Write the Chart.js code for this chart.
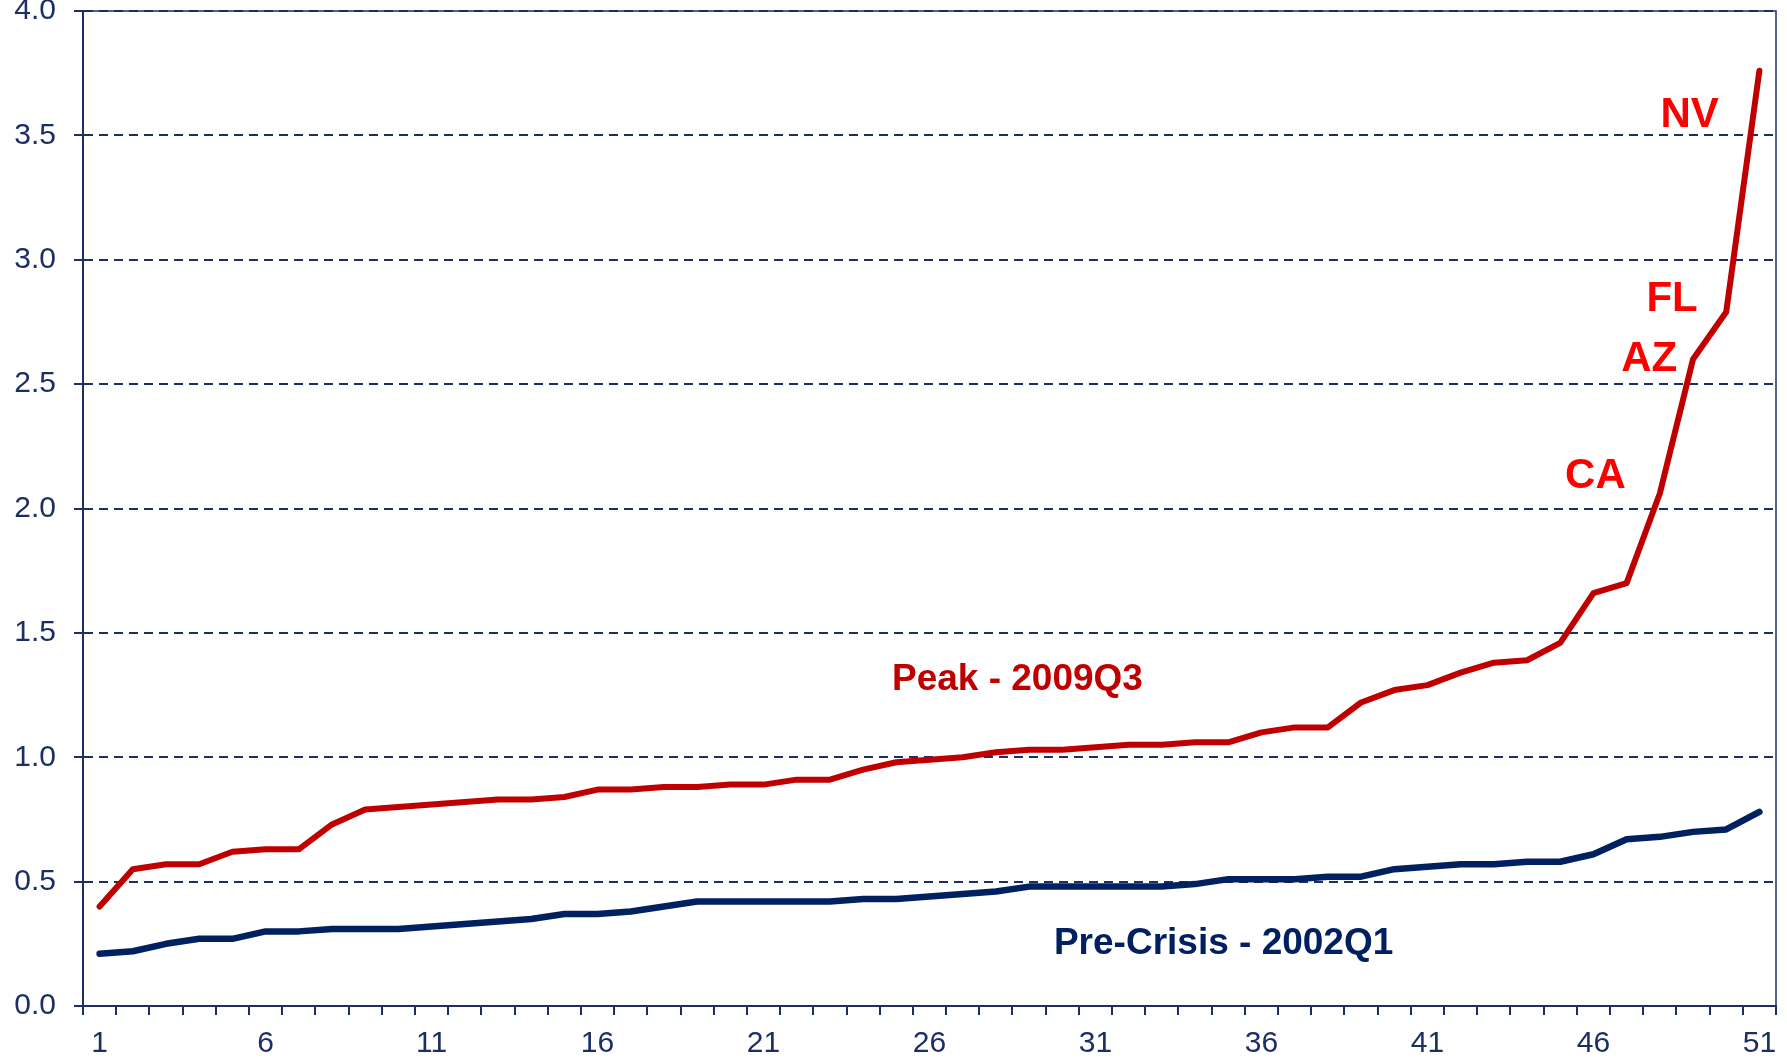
<!DOCTYPE html>
<html>
<head>
<meta charset="utf-8">
<script src="https://cdn.jsdelivr.net/npm/chart.js@4/dist/chart.umd.min.js"></script>
<style>
  html, body { margin: 0; padding: 0; background: #fff; }
  #wrap { width: 1787px; height: 1061px; }
</style>
</head>
<body>
<div id="wrap"><canvas id="chart"></canvas></div>
<script>
// state rank 1..51
const categories = [];
for (let i = 1; i <= 51; i++) categories.push(String(i));

const peakLabel = 'Peak - 2009Q3';
const peak = [0.40, 0.55, 0.57, 0.57, 0.62, 0.63, 0.63, 0.73, 0.79, 0.80,
  0.81, 0.82, 0.83, 0.83, 0.84, 0.87, 0.87, 0.88, 0.88, 0.89,
  0.89, 0.91, 0.91, 0.95, 0.98, 0.99, 1.00, 1.02, 1.03, 1.03,
  1.04, 1.05, 1.05, 1.06, 1.06, 1.10, 1.12, 1.12, 1.22, 1.27,
  1.29, 1.34, 1.38, 1.39, 1.46, 1.66, 1.70, 2.06, 2.60, 2.79, 3.76];

const preLabel = 'Pre-Crisis - 2002Q1';
const preCrisis = [0.21, 0.22, 0.25, 0.27, 0.27, 0.30, 0.30, 0.31, 0.31, 0.31,
  0.32, 0.33, 0.34, 0.35, 0.37, 0.37, 0.38, 0.40, 0.42, 0.42,
  0.42, 0.42, 0.42, 0.43, 0.43, 0.44, 0.45, 0.46, 0.48, 0.48,
  0.48, 0.48, 0.48, 0.49, 0.51, 0.51, 0.51, 0.52, 0.52, 0.55,
  0.56, 0.57, 0.57, 0.58, 0.58, 0.61, 0.67, 0.68, 0.70, 0.71, 0.78];

// text notes: [text, category index (0-based, fractional), value, colour, size]
const notes = [
  ['NV', 47.9, 3.58, '#FF0000', 42],
  ['FL', 47.37, 2.84, '#FF0000', 42],
  ['AZ', 46.68, 2.60, '#FF0000', 42],
  ['CA', 45.06, 2.13, '#FF0000', 42],
  [peakLabel, 27.65, 1.31, '#C00000', 37],
  [preLabel, 33.86, 0.25, '#002060', 37]
];

const navy = '#1B2F66';

const frame = {
  id: 'frame',
  afterDraw(chart) {
    const a = chart.chartArea, ctx = chart.ctx;
    ctx.save();
    ctx.setLineDash([]);
    ctx.strokeStyle = navy;
    ctx.lineWidth = 1.5;
    ctx.beginPath();
    ctx.moveTo(a.left, a.top);
    ctx.lineTo(a.right, a.top);
    ctx.lineTo(a.right, a.bottom);
    ctx.stroke();
    ctx.restore();
  }
};

const textNotes = {
  id: 'textNotes',
  afterDatasetsDraw(chart) {
    const ctx = chart.ctx, xs = chart.scales.x, ys = chart.scales.y;
    ctx.save();
    ctx.textAlign = 'center';
    ctx.textBaseline = 'middle';
    notes.forEach(n => {
      ctx.font = 'bold ' + n[4] + 'px "Liberation Sans", Arial, sans-serif';
      ctx.fillStyle = n[3];
      ctx.fillText(n[0], xs.getPixelForValue(n[1]), ys.getPixelForValue(n[2]));
    });
    ctx.restore();
  }
};

new Chart(document.getElementById('chart'), {
  type: 'line',
  data: {
    labels: categories,
    datasets: [
      {
        label: peakLabel,
        data: peak,
        borderColor: '#C00000',
        borderWidth: 6,
        pointRadius: 0,
        tension: 0,
        borderCapStyle: 'round',
        borderJoinStyle: 'round'
      },
      {
        label: preLabel,
        data: preCrisis,
        borderColor: '#002060',
        borderWidth: 6.5,
        pointRadius: 0,
        tension: 0,
        borderCapStyle: 'round',
        borderJoinStyle: 'round'
      }
    ]
  },
  options: {
    responsive: true,
    maintainAspectRatio: false,
    animation: false,
    layout: { padding: { top: 11, right: 11, left: 0, bottom: 0 } },
    plugins: {
      legend: { display: false },
      tooltip: { enabled: false }
    },
    scales: {
      x: {
        offset: true,
        grid: {
          offset: true,
          drawOnChartArea: false,
          drawTicks: true,
          tickLength: 9,
          color: navy,
          lineWidth: 2
        },
        border: { color: navy, width: 2 },
        ticks: {
          autoSkip: false,
          maxRotation: 0,
          padding: 11,
          color: navy,
          font: { family: '"Liberation Sans", Arial, sans-serif', size: 30 },
          callback: (v, i) => (i % 5 === 0 ? categories[i] : '')
        },
        afterFit(scale) {
          scale.height = 55;
          scale.paddingLeft = 0;
          scale.paddingRight = 0;
        }
      },
      y: {
        min: 0,
        max: 4,
        grid: {
          color: navy,
          lineWidth: 2,
          tickLength: 9,
          tickBorderDash: [],
          tickColor: navy
        },
        border: { color: navy, width: 2, dash: [9, 6] },
        ticks: {
          stepSize: 0.5,
          padding: 18,
          color: navy,
          font: { family: '"Liberation Sans", Arial, sans-serif', size: 30 },
          callback: v => v.toFixed(1)
        },
        afterFit(scale) {
          scale.width = 83;
          scale.paddingTop = 0;
          scale.paddingBottom = 0;
        }
      }
    }
  },
  plugins: [frame, textNotes]
});
</script>
</body>
</html>
